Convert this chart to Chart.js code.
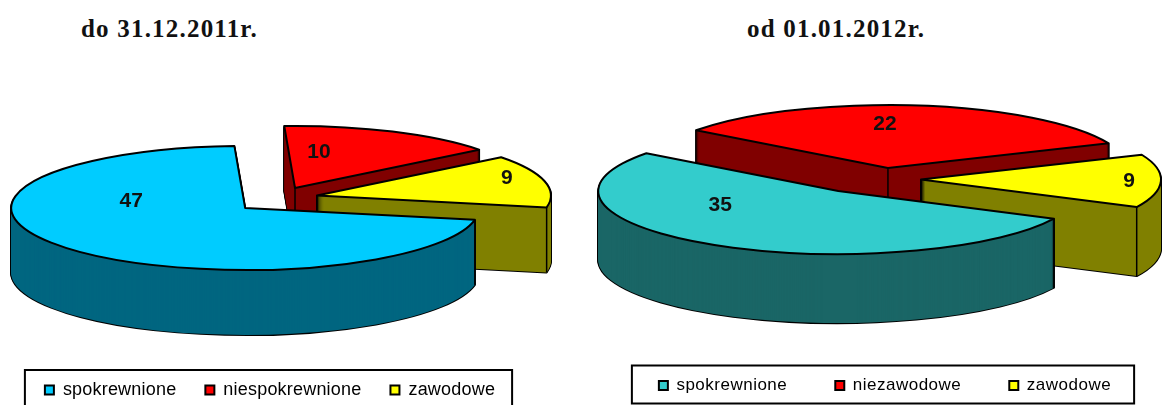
<!DOCTYPE html>
<html>
<head>
<meta charset="utf-8">
<script src="https://cdn.jsdelivr.net/npm/chart.js@4"></script>
<style>
  html, body { margin: 0; background: #fff; overflow: hidden; width: 1164px; height: 405px; position: relative; }
  canvas { position: absolute; top: 0; }
  #chartLeft { left: -112px; }
  #chartRight { left: 503px; }
  .period { position: absolute; top: 15px; margin: 0; font: bold 25px "Liberation Serif", serif; color: #111; white-space: nowrap; letter-spacing: 1.2px; }
</style>
</head>
<body>
<h2 class="period" style="left:81px">do 31.12.2011r.</h2>
<h2 class="period" style="left:747px">od 01.01.2012r.</h2>
<canvas id="chartLeft" width="764" height="460"></canvas>
<canvas id="chartRight" width="764" height="460"></canvas>
<script>
const labelsBefore = ['spokrewnione', 'niespokrewnione', 'zawodowe'];
const valuesBefore = [47, 10, 9];
const facesBefore = ['#00CCFF', '#FF0000', '#FFFF00'];
const wallsBefore = ['#006680', '#800000', '#808000'];

const labelsAfter = ['spokrewnione', 'niezawodowe', 'zawodowe'];
const valuesAfter = [35, 22, 9];
const facesAfter = ['#33CCCC', '#FF0000', '#FFFF00'];
const wallsAfter = ['#1A6666', '#800000', '#808000'];

// back slices first, the big one goes on top of their walls
const paintOrder = [1, 2, 0];

function slicePath(ctx, arc, tilt, lift) {
  const { startAngle, endAngle, outerRadius } = arc.getProps(['startAngle', 'endAngle', 'outerRadius'], true);
  const mid = (startAngle + endAngle) / 2;
  const x = tilt.centre[0] + Math.cos(mid) * arc.options.offset;
  const y = tilt.centre[1] + Math.sin(mid) * arc.options.offset * tilt.offsetRatio + lift;
  ctx.beginPath();
  ctx.moveTo(x, y);
  ctx.ellipse(x, y, outerRadius, outerRadius * tilt.ratio, 0, startAngle, endAngle);
  ctx.closePath();
  return { x, y, rx: outerRadius, ry: outerRadius * tilt.ratio, startAngle, endAngle };
}

function drawEdge(ctx, x, y, depth) {
  ctx.beginPath();
  ctx.moveTo(x, y);
  ctx.lineTo(x, y + depth);
  ctx.stroke();
}

// chart.js only does flat pies, so squash the arcs and stack them for the old excel look
const tiltPlugin = {
  id: 'tilt',
  beforeUpdate(chart) {
    chart.ctx.letterSpacing = chart.options.plugins.tilt.legendSpacing;
  },
  beforeDraw(chart, args, tilt) {
    chart.ctx.letterSpacing = tilt.legendSpacing;
  },
  beforeDatasetsDraw(chart, args, tilt) {
    const ctx = chart.ctx;
    const arcs = chart.getDatasetMeta(0).data;
    ctx.save();
    ctx.lineJoin = 'round';
    paintOrder.forEach(i => {
      const arc = arcs[i];
      ctx.strokeStyle = '#000';
      ctx.lineWidth = 2;
      for (let lift = tilt.depth; lift > 0; lift--) {
        slicePath(ctx, arc, tilt, lift);
        ctx.stroke();
      }
      ctx.fillStyle = tilt.walls[i];
      for (let lift = tilt.depth; lift > 0; lift--) {
        slicePath(ctx, arc, tilt, lift);
        ctx.fill();
      }
      const s = slicePath(ctx, arc, tilt, 0);
      ctx.lineWidth = 1.5;
      // inner edge only shows on the small slices, rim edges only on the front half
      if (s.endAngle - s.startAngle < Math.PI) drawEdge(ctx, s.x, s.y, tilt.depth);
      [s.startAngle, s.endAngle].forEach(a => {
        if (Math.sin(a) > 0) drawEdge(ctx, s.x + Math.cos(a) * s.rx, s.y + Math.sin(a) * s.ry, tilt.depth);
      });
      slicePath(ctx, arc, tilt, 0);
      ctx.fillStyle = chart.data.datasets[0].backgroundColor[i];
      ctx.fill();
      ctx.lineWidth = 2;
      ctx.stroke();
    });
    ctx.letterSpacing = '0px';
    ctx.fillStyle = '#111';
    ctx.font = 'bold 21px "Liberation Sans", Arial, sans-serif';
    ctx.textAlign = 'center';
    ctx.textBaseline = 'middle';
    paintOrder.forEach(i => {
      const s = slicePath(ctx, arcs[i], tilt, 0);
      ctx.fillText(String(chart.data.datasets[0].data[i]), s.x + tilt.valueShift[i][0], s.y + tilt.valueShift[i][1]);
    });
    ctx.restore();
    return false;
  },
  afterDraw(chart, args, tilt) {
    const boxes = chart.legend.legendHitBoxes;
    const ctx = chart.ctx;
    const left = boxes[0].left - tilt.frame.left;
    const right = boxes[boxes.length - 1].left + boxes[boxes.length - 1].width + tilt.frame.right;
    const mid = boxes[0].top + boxes[0].height / 2;
    ctx.save();
    ctx.strokeStyle = '#000';
    ctx.lineWidth = 2;
    ctx.strokeRect(left, mid - tilt.frame.up, right - left, tilt.frame.up + tilt.frame.down);
    ctx.restore();
  }
};

function drawPie(id, labels, values, faces, walls, setup) {
  return new Chart(document.getElementById(id), {
    type: 'pie',
    data: {
      labels,
      datasets: [{ data: values, backgroundColor: faces, borderColor: '#000', offset: setup.offsets, clip: false }]
    },
    plugins: [tiltPlugin],
    options: {
      responsive: false,
      animation: false,
      radius: setup.radius,
      rotation: setup.rotation,
      layout: { padding: setup.padding },
      plugins: {
        tooltip: { enabled: false },
        tilt: {
          centre: setup.centre,
          ratio: setup.ratio,
          offsetRatio: setup.offsetRatio,
          depth: setup.depth,
          walls,
          valueShift: setup.valueShift,
          frame: setup.frame,
          legendSpacing: setup.legendSpacing
        },
        legend: {
          position: 'bottom',
          labels: {
            boxWidth: 9,
            boxHeight: 9,
            padding: setup.gap,
            color: '#111',
            font: { family: '"Liberation Sans", Arial, sans-serif', size: setup.legendSize },
            generateLabels: c => c.data.labels.map((text, i) => ({
              text,
              fillStyle: c.data.datasets[0].backgroundColor[i],
              strokeStyle: '#000',
              lineWidth: 2,
              hidden: false,
              index: i
            }))
          }
        }
      }
    }
  });
}

drawPie('chartLeft', labelsBefore, valuesBefore, facesBefore, wallsBefore, {
  radius: 234, rotation: 101, ratio: 0.265, offsetRatio: 0.319, depth: 65,
  centre: [392, 198.4],
  offsets: [46, 36, 38],
  valueShift: [[-114, -7], [24, -36], [190, -17]],
  padding: { bottom: 51 },
  gap: 29,
  legendSize: 18,
  legendSpacing: '0.2px',
  frame: { left: 20, right: 17, up: 20, down: 40 }
});

drawPie('chartRight', labelsAfter, valuesAfter, facesAfter, wallsAfter, {
  radius: 240, rotation: 116, ratio: 0.2625, offsetRatio: 0.172, depth: 69,
  centre: [377, 179.3],
  offsets: [80, 66, 41],
  valueShift: [[-118, 14], [-3, -44], [208, 2]],
  padding: { bottom: 56 },
  gap: 48,
  legendSize: 17,
  legendSpacing: '0.5px',
  frame: { left: 27, right: 23, up: 20, down: 18 }
});
</script>
</body>
</html>
